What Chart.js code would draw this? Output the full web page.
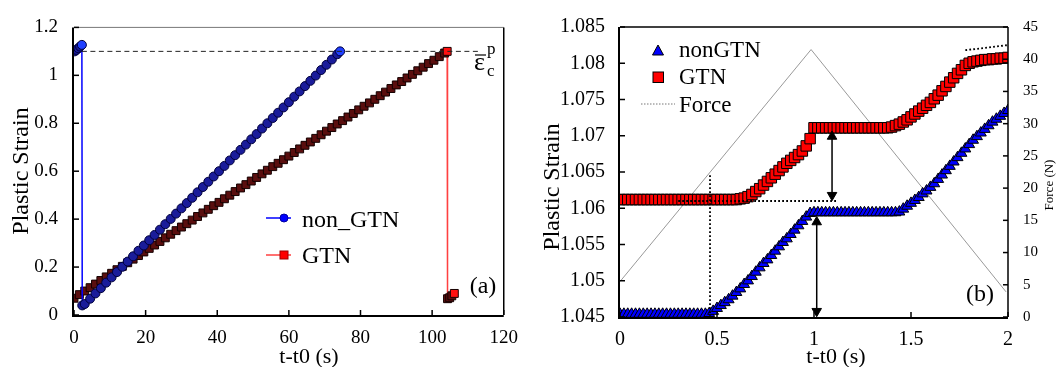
<!DOCTYPE html>
<html>
<head>
<meta charset="utf-8">
<script src="https://cdn.jsdelivr.net/npm/chart.js@4.4.0/dist/chart.umd.min.js"></script>
<style>
  body { margin: 0; background: #fff; }
  #wrap { position: relative; width: 1059px; height: 367px; overflow: hidden; }
  canvas { position: absolute; top: 0; }
</style>
</head>
<body>
<div id="wrap">
  <canvas id="chartA" width="530" height="367" style="left:0"></canvas>
  <canvas id="chartB" width="529" height="367" style="left:530px"></canvas>
</div>
<script>
const SERIF = '"Liberation Serif", "Times New Roman", serif'

// ---------- panel (a) ----------
const aXTicks = [0, 20, 40, 60, 80, 100, 120]
const aXLabels = ['0', '20', '40', '60', '80', '100', '120']
const aYTicks = [0, 0.2, 0.4, 0.6, 0.8, 1, 1.2]
const aYLabels = ['0', '0.2', '0.4', '0.6', '0.8', '1', '1.2']

const nonGtnTime = [0.2, 0.7, 1.2, 1.7, 2.2, 2.3,
  3, 4.5, 6, 7.5, 9, 10.5, 12, 13.5, 15, 16.5,
  18, 19.5, 21, 22.5, 24, 25.5, 27, 28.5, 30, 31.5,
  33, 34.5, 36, 37.5, 39, 40.5, 42, 43.5, 45, 46.5,
  48, 49.5, 51, 52.5, 54, 55.5, 57, 58.5, 60, 61.5,
  63, 64.5, 66, 67.5, 69, 70.5, 72, 73.5, 74.3]
const nonGtnStrain = [1.100, 1.106, 1.113, 1.120, 1.127, 0.040,
  0.046, 0.068, 0.090, 0.112, 0.135, 0.157, 0.179, 0.201, 0.223, 0.245,
  0.268, 0.290, 0.312, 0.334, 0.356, 0.379, 0.401, 0.423, 0.445, 0.467,
  0.489, 0.512, 0.534, 0.556, 0.578, 0.600, 0.622, 0.645, 0.667, 0.689,
  0.711, 0.733, 0.755, 0.778, 0.800, 0.822, 0.844, 0.866, 0.888, 0.911,
  0.933, 0.955, 0.977, 0.999, 1.022, 1.044, 1.066, 1.088, 1.100]

const gtnTime = [0, 1.5, 3, 4.5, 6, 7.5, 9, 10.5, 12, 13.5,
  15, 16.5, 18, 19.5, 21, 22.5, 24, 25.5, 27, 28.5,
  30, 31.5, 33, 34.5, 36, 37.5, 39, 40.5, 42, 43.5,
  45, 46.5, 48, 49.5, 51, 52.5, 54, 55.5, 57, 58.5,
  60, 61.5, 63, 64.5, 66, 67.5, 69, 70.5, 72, 73.5,
  75, 76.5, 78, 79.5, 81, 82.5, 84, 85.5, 87, 88.5,
  90, 91.5, 93, 94.5, 96, 97.5, 99, 100.5, 102, 103.5,
  104.2, 104.3, 104.9, 105.5, 106.2]
const gtnStrain = [0.070, 0.085, 0.100, 0.114, 0.129, 0.144, 0.159, 0.174, 0.189, 0.203,
  0.218, 0.233, 0.248, 0.263, 0.278, 0.292, 0.307, 0.322, 0.337, 0.352,
  0.367, 0.381, 0.396, 0.411, 0.426, 0.441, 0.456, 0.470, 0.485, 0.500,
  0.515, 0.530, 0.544, 0.559, 0.574, 0.589, 0.604, 0.619, 0.633, 0.648,
  0.663, 0.678, 0.693, 0.708, 0.722, 0.737, 0.752, 0.767, 0.782, 0.797,
  0.811, 0.826, 0.841, 0.856, 0.871, 0.885, 0.900, 0.915, 0.930, 0.945,
  0.960, 0.974, 0.989, 1.004, 1.019, 1.034, 1.049, 1.063, 1.078, 1.093,
  1.100, 0.068, 0.072, 0.080, 0.090]

// critical plastic strain (dashed line)
const criticalTime = [2.2, 112.8]
const criticalStrain = [1.1, 1.1]

// ---------- panel (b) ----------
const bXTicks = [0, 0.5, 1, 1.5, 2]
const bXLabels = ['0', '0.5', '1', '1.5', '2']
const bYTicks = [1.045, 1.05, 1.055, 1.06, 1.065, 1.07, 1.075, 1.08, 1.085]
const bYLabels = ['1.045', '1.05', '1.055', '1.06', '1.065', '1.07', '1.075', '1.08', '1.085']
const bY2Ticks = [0, 5, 10, 15, 20, 25, 30, 35, 40, 45]
const bY2Labels = ['0', '5', '10', '15', '20', '25', '30', '35', '40', '45']

const bTime = [0, 0.02, 0.04, 0.06, 0.08, 0.1, 0.12, 0.14, 0.16, 0.18,
  0.2, 0.22, 0.24, 0.26, 0.28, 0.3, 0.32, 0.34, 0.36, 0.38,
  0.4, 0.42, 0.44, 0.46, 0.48, 0.5, 0.52, 0.54, 0.56, 0.58,
  0.6, 0.62, 0.64, 0.66, 0.68, 0.7, 0.72, 0.74, 0.76, 0.78,
  0.8, 0.82, 0.84, 0.86, 0.88, 0.9, 0.92, 0.94, 0.96, 0.98,
  1, 1.02, 1.04, 1.06, 1.08, 1.1, 1.12, 1.14, 1.16, 1.18,
  1.2, 1.22, 1.24, 1.26, 1.28, 1.3, 1.32, 1.34, 1.36, 1.38,
  1.4, 1.42, 1.44, 1.46, 1.48, 1.5, 1.52, 1.54, 1.56, 1.58,
  1.6, 1.62, 1.64, 1.66, 1.68, 1.7, 1.72, 1.74, 1.76, 1.78,
  1.8, 1.82, 1.84, 1.86, 1.88, 1.9, 1.92, 1.94, 1.96, 1.98,
  2]
const bGtn = [1.0612, 1.0612, 1.0612, 1.0612, 1.0612, 1.0612, 1.0612, 1.0612, 1.0612, 1.0612,
  1.0612, 1.0612, 1.0612, 1.0612, 1.0612, 1.0612, 1.0612, 1.0612, 1.0612, 1.0612,
  1.0612, 1.0612, 1.0612, 1.0612, 1.0612, 1.0612, 1.0612, 1.0612, 1.0612, 1.0612,
  1.0612, 1.0613, 1.0614, 1.0616, 1.0619, 1.0623, 1.0627, 1.0632, 1.0637, 1.0642,
  1.0647, 1.0652, 1.0657, 1.0662, 1.0666, 1.0670, 1.0674, 1.0679, 1.0686, 1.0696,
  1.0711, 1.0711, 1.0711, 1.0711, 1.0711, 1.0711, 1.0711, 1.0711, 1.0711, 1.0711,
  1.0711, 1.0711, 1.0711, 1.0711, 1.0711, 1.0711, 1.0711, 1.0711, 1.0711, 1.0711,
  1.0712, 1.0714, 1.0716, 1.0719, 1.0722, 1.0726, 1.0730, 1.0734, 1.0738, 1.0742,
  1.0746, 1.0751, 1.0756, 1.0762, 1.0768, 1.0774, 1.0780, 1.0786, 1.0791, 1.0797,
  1.0800, 1.0802, 1.0803, 1.0804, 1.0805, 1.0805, 1.0806, 1.0806, 1.0807, 1.0807,
  1.0808]
const bNonGtn = [1.0454, 1.0454, 1.0454, 1.0454, 1.0454, 1.0454, 1.0454, 1.0454, 1.0454, 1.0454,
  1.0454, 1.0454, 1.0454, 1.0454, 1.0454, 1.0454, 1.0454, 1.0454, 1.0454, 1.0454,
  1.0454, 1.0454, 1.0454, 1.0455, 1.0458, 1.0462, 1.0466, 1.0470, 1.0474, 1.0479,
  1.0484, 1.0489, 1.0495, 1.0500, 1.0506, 1.0512, 1.0518, 1.0524, 1.0529, 1.0535,
  1.0541, 1.0547, 1.0553, 1.0558, 1.0564, 1.0570, 1.0576, 1.0582, 1.0588, 1.0593,
  1.0594, 1.0594, 1.0594, 1.0594, 1.0594, 1.0594, 1.0594, 1.0594, 1.0594, 1.0594,
  1.0594, 1.0594, 1.0594, 1.0594, 1.0594, 1.0594, 1.0594, 1.0594, 1.0594, 1.0594,
  1.0594, 1.0594, 1.0595, 1.0599, 1.0603, 1.0607, 1.0611, 1.0615, 1.0620, 1.0624,
  1.0629, 1.0634, 1.0640, 1.0646, 1.0652, 1.0658, 1.0664, 1.0670, 1.0676, 1.0682,
  1.0688, 1.0694, 1.0699, 1.0704, 1.0709, 1.0714, 1.0719, 1.0723, 1.0727, 1.0731,
  1.0735]
const forceTime = [0, 0.985, 1.99]
const forceValue = [5.5, 41.5, 3.9]

// annotation lines of (b)
const yieldTime = [0.464, 0.464]
const yieldStrain = [1.045, 1.0646]
const gapTime = [0.30, 1.117]
const gapStrain = [1.0610, 1.0610]
const endTime = [1.78, 2.0]
const endStrain = [1.0818, 1.0825]
const arrow1Time = [1.093, 1.093]
const arrow1Strain = [1.0699, 1.0618]
const arrow2Time = [1.014, 1.014]
const arrow2Strain = [1.0581, 1.0458]

// ---------- helpers ----------
const pts = (xs, ys) => xs.map((x, i) => ({ x: x, y: ys[i] }))
const fixedTicks = values => scale => { scale.ticks = values.map(v => ({ value: v })) }
const font = size => size + 'px ' + SERIF

function text(ctx, str, x, y, size, align, rot) {
    ctx.save()
    ctx.font = font(size)
    ctx.fillStyle = '#000'
    ctx.textAlign = align || 'left'
    ctx.textBaseline = 'alphabetic'
    ctx.translate(x, y)
    if (rot) ctx.rotate(rot)
    ctx.fillText(str, 0, 0)
    ctx.restore()
}
function midText(ctx, str, x, y, size, rot) {
    ctx.save()
    ctx.font = font(size)
    ctx.fillStyle = '#000'
    ctx.textAlign = 'center'
    ctx.textBaseline = 'middle'
    ctx.translate(x, y)
    if (rot) ctx.rotate(rot)
    ctx.fillText(str, 0, 0)
    ctx.restore()
}
function seg(ctx, x1, y1, x2, y2, color, w, dash) {
    ctx.save()
    ctx.strokeStyle = color
    ctx.lineWidth = w
    ctx.setLineDash(dash || [])
    ctx.beginPath()
    ctx.moveTo(x1, y1)
    ctx.lineTo(x2, y2)
    ctx.stroke()
    ctx.restore()
}
function innerTicks(chart, id, side) {
    const ctx = chart.ctx, s = chart.scales[id], a = chart.chartArea
    s.ticks.forEach(t => {
        const p = s.getPixelForValue(t.value)
        if (side === 'bottom') seg(ctx, p, a.bottom, p, a.bottom - 5, '#000', 1.5)
        if (side === 'left') seg(ctx, a.left, p, a.left + 5, p, '#000', 1.5)
        if (side === 'right') seg(ctx, a.right, p, a.right - 5, p, '#000', 1.5)
    })
}
// markers at the end of a run stay bright, the packed ones look dark
const endOfRun = (bright, dark) => c => {
    const d = c.dataset.data, i = c.dataIndex
    if (!d[i]) return dark
    const last = i === d.length - 1 || Math.abs(d[i + 1].y - d[i].y) > 0.5
    return last ? bright : dark
}
const tickFont = size => ({ family: SERIF, size: size })
const noGrid = { display: false, drawTicks: false }

// ---------- chart (a) ----------
const decorA = {
    id: 'decorA',
    afterDatasetsDraw(chart) {
        const ctx = chart.ctx, a = chart.chartArea
        seg(ctx, a.left, a.top, a.right, a.top, '#777', 1)
        seg(ctx, a.right, a.top, a.right, a.bottom, '#000', 1.5)
        seg(ctx, a.left, a.bottom + 1, a.right, a.bottom + 1, '#000', 2)
        seg(ctx, a.left - 1, a.top, a.left - 1, a.bottom + 2, '#000', 2)
        innerTicks(chart, 'x', 'bottom')
        innerTicks(chart, 'y', 'left')
    },
    afterDraw(chart) {
        const ctx = chart.ctx
        midText(ctx, 'Plastic Strain', 22, 171, 24, -Math.PI / 2)
        midText(ctx, 't-t0 (s)', 309, 357, 22)
        // legend
        seg(ctx, 266, 218, 291, 218, '#0000ff', 1.5)
        ctx.save()
        ctx.fillStyle = '#0000ff'; ctx.strokeStyle = '#0000a0'
        ctx.beginPath(); ctx.arc(284, 218, 4, 0, Math.PI * 2); ctx.fill(); ctx.stroke()
        ctx.restore()
        text(ctx, 'non_GTN', 302, 227, 24)
        seg(ctx, 266, 255, 291, 255, '#ff4040', 1.5)
        ctx.save()
        ctx.fillStyle = '#ff0000'; ctx.strokeStyle = '#a00000'
        ctx.fillRect(280, 251, 8, 8); ctx.strokeRect(280, 251, 8, 8)
        ctx.restore()
        text(ctx, 'GTN', 302, 263, 24)
        text(ctx, '(a)', 483, 293, 24, 'center')
        // critical strain label
        text(ctx, 'ε', 474, 70, 26)
        seg(ctx, 475, 55, 486, 55, '#000', 1.2)
        text(ctx, 'p', 487, 54, 17)
        text(ctx, 'c', 487, 76, 17)
    }
}

new Chart(document.getElementById('chartA'), {
    type: 'scatter',
    data: {
        datasets: [{
            label: 'critical',
            data: pts(criticalTime, criticalStrain),
            showLine: true,
            borderColor: '#222',
            borderWidth: 1,
            borderDash: [5, 3.5],
            pointRadius: 0
        }, {
            label: 'non_GTN',
            data: pts(nonGtnTime, nonGtnStrain),
            showLine: true,
            borderColor: '#0000ff',
            borderWidth: 1.5,
            pointStyle: 'circle',
            pointRadius: 4.5,
            pointBackgroundColor: endOfRun('#2040ff', '#1a1c9a'),
            pointBorderColor: '#00003c',
            pointBorderWidth: 1
        }, {
            label: 'GTN',
            data: pts(gtnTime, gtnStrain),
            showLine: true,
            borderColor: '#ff4040',
            borderWidth: 1.5,
            pointStyle: 'rect',
            pointRadius: 5.6,
            pointBackgroundColor: endOfRun('#ff1010', '#5a0e0e'),
            pointBorderColor: '#140000',
            pointBorderWidth: 1
        }]
    },
    options: {
        responsive: false,
        animation: false,
        devicePixelRatio: 1,
        layout: { padding: { top: 20, right: 24, left: 0, bottom: 0 } },
        plugins: { legend: { display: false }, tooltip: { enabled: false } },
        scales: {
            x: {
                type: 'linear', min: 0, max: 120,
                afterBuildTicks: fixedTicks(aXTicks),
                afterFit: s => { s.height = 52 },
                grid: noGrid, border: { display: false },
                ticks: { callback: (v, i) => aXLabels[i], font: tickFont(19), color: '#000', padding: 12, autoSkip: false, maxRotation: 0 }
            },
            y: {
                type: 'linear', min: 0, max: 1.2,
                afterBuildTicks: fixedTicks(aYTicks),
                afterFit: s => { s.width = 74 },
                grid: noGrid, border: { display: false },
                ticks: { callback: (v, i) => aYLabels[i], font: tickFont(19), color: '#000', padding: 16, autoSkip: false }
            }
        }
    },
    plugins: [decorA]
})

// ---------- chart (b) ----------
const decorB = {
    id: 'decorB',
    afterDatasetsDraw(chart) {
        const ctx = chart.ctx, a = chart.chartArea
        seg(ctx, a.left, a.top, a.right, a.top, '#000', 1.5)
        seg(ctx, a.right, a.top, a.right, a.bottom, '#000', 1.5)
        seg(ctx, a.left, a.bottom + 1, a.right, a.bottom + 1, '#000', 2)
        seg(ctx, a.left - 1, a.top, a.left - 1, a.bottom + 2, '#000', 2)
        innerTicks(chart, 'x', 'bottom')
        innerTicks(chart, 'y', 'left')
        innerTicks(chart, 'y2', 'right')
    },
    afterDraw(chart) {
        const ctx = chart.ctx
        midText(ctx, 'Plastic Strain', 23, 187, 24, -Math.PI / 2)
        midText(ctx, 't-t0 (s)', 306, 357, 22)
        midText(ctx, 'Force (N)', 520, 185, 13, -Math.PI / 2)
        // legend
        ctx.save()
        ctx.fillStyle = '#0000ff'; ctx.strokeStyle = '#000'; ctx.lineWidth = 1
        ctx.beginPath()
        ctx.moveTo(128, 45); ctx.lineTo(133.5, 55); ctx.lineTo(122.5, 55); ctx.closePath()
        ctx.fill(); ctx.stroke()
        ctx.fillStyle = '#ff0000'
        ctx.fillRect(123, 72, 10.5, 10.5); ctx.strokeRect(123, 72, 10.5, 10.5)
        ctx.restore()
        text(ctx, 'nonGTN', 149, 56.5, 23)
        text(ctx, 'GTN', 149, 84, 23)
        seg(ctx, 111, 104, 145, 104, '#777', 1, [1.5, 1.5])
        text(ctx, 'Force', 149, 111.5, 23)
        text(ctx, '(b)', 450, 301, 24, 'center')
    }
}

const dotted = (xs, ys) => ({
    data: pts(xs, ys),
    showLine: true,
    borderColor: '#000',
    borderWidth: 1.8,
    borderDash: [1.8, 2.2],
    pointRadius: 0
})
const arrow = (xs, ys) => ({
    data: pts(xs, ys),
    showLine: true,
    borderColor: '#000',
    borderWidth: 1.5,
    pointStyle: 'triangle',
    pointRadius: 5.5,
    pointRotation: c => c.dataIndex === 0 ? 0 : 180,
    pointBackgroundColor: '#000',
    pointBorderColor: '#000',
    pointBorderWidth: 1
})

new Chart(document.getElementById('chartB'), {
    type: 'scatter',
    data: {
        datasets: [
            arrow(arrow1Time, arrow1Strain),
            arrow(arrow2Time, arrow2Strain),
            dotted(gapTime, gapStrain),
            dotted(yieldTime, yieldStrain),
            dotted(endTime, endStrain),
            {
                label: 'GTN',
                data: pts(bTime, bGtn),
                pointStyle: 'rect',
                pointRadius: 7.4,
                pointBackgroundColor: '#ff0000',
                pointBorderColor: '#000',
                pointBorderWidth: 1
            }, {
                label: 'nonGTN',
                data: pts(bTime, bNonGtn),
                pointStyle: 'triangle',
                pointRadius: 6.3,
                pointBackgroundColor: '#0000ff',
                pointBorderColor: '#000',
                pointBorderWidth: 1
            }, {
                label: 'Force',
                data: pts(forceTime, forceValue),
                yAxisID: 'y2',
                showLine: true,
                borderColor: '#999',
                borderWidth: 1,
                pointRadius: 0
            }
        ]
    },
    options: {
        responsive: false,
        animation: false,
        devicePixelRatio: 1,
        layout: { padding: { top: 27, right: 0, left: 0, bottom: 0 } },
        plugins: { legend: { display: false }, tooltip: { enabled: false } },
        scales: {
            x: {
                type: 'linear', min: 0, max: 2,
                afterBuildTicks: fixedTicks(bXTicks),
                afterFit: s => { s.height = 50 },
                grid: noGrid, border: { display: false },
                ticks: { callback: (v, i) => bXLabels[i], font: tickFont(20), color: '#000', padding: 11, autoSkip: false, maxRotation: 0 }
            },
            y: {
                type: 'linear', min: 1.045, max: 1.085,
                afterBuildTicks: fixedTicks(bYTicks),
                afterFit: s => { s.width = 90 },
                grid: noGrid, border: { display: false },
                ticks: { callback: (v, i) => bYLabels[i], font: tickFont(20), color: '#000', padding: 15, autoSkip: false }
            },
            y2: {
                type: 'linear', position: 'right', min: 0, max: 45,
                afterBuildTicks: fixedTicks(bY2Ticks),
                afterFit: s => { s.width = 51 },
                grid: noGrid, border: { display: false },
                ticks: { callback: (v, i) => bY2Labels[i], font: tickFont(15), color: '#000', padding: 15, autoSkip: false }
            }
        }
    },
    plugins: [decorB]
})
</script>
</body>
</html>
